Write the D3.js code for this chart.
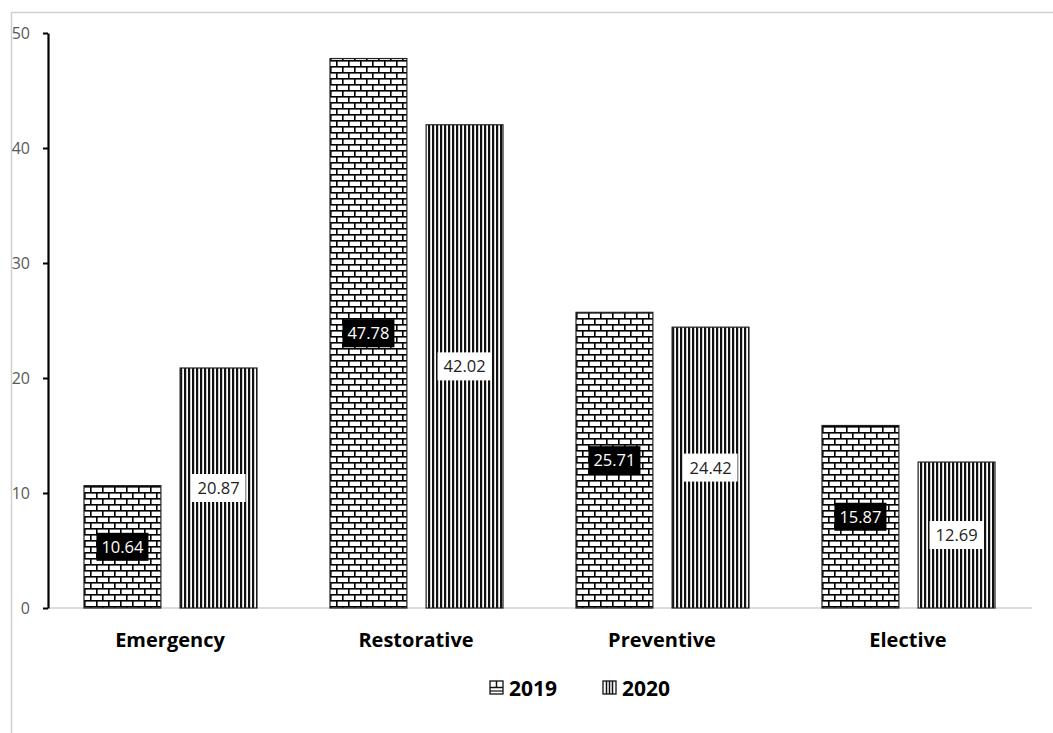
<!DOCTYPE html>
<html><head><meta charset="utf-8">
<script src="https://cdn.jsdelivr.net/npm/d3@7"></script>
<style>body{margin:0;background:#fff}svg{display:block}</style>
</head><body><svg id="c" width="1053" height="733"></svg>
<script>
const categories = ["Emergency", "Restorative", "Preventive", "Elective"];
const seriesNames = ["2019", "2020"];
const values2019 = [10.64, 47.78, 25.71, 15.87];
const values2020 = [20.87, 42.02, 24.42, 12.69];
const yTicks = [0, 10, 20, 30, 40, 50];

const svg = d3.select("#c");
const font = "'Open Sans', sans-serif";
const defs = svg.append("defs");
// brick pattern
const pb = defs.append("pattern").attr("id", "brick").attr("patternUnits", "userSpaceOnUse")
  .attr("width", 12).attr("height", 12);
pb.append("rect").attr("width", 12).attr("height", 12).attr("fill", "#fff");
pb.append("rect").attr("x", 0).attr("y", 0).attr("width", 12).attr("height", 1.6).attr("fill", "#000");
pb.append("rect").attr("x", 0).attr("y", 6).attr("width", 12).attr("height", 1.6).attr("fill", "#000");
pb.append("rect").attr("x", 0).attr("y", 0).attr("width", 1.6).attr("height", 6).attr("fill", "#000");
pb.append("rect").attr("x", 6).attr("y", 6).attr("width", 1.6).attr("height", 6).attr("fill", "#000");
// vertical stripes
const pv = defs.append("pattern").attr("id", "vstripe").attr("patternUnits", "userSpaceOnUse")
  .attr("width", 4).attr("height", 4);
pv.append("rect").attr("width", 4).attr("height", 4).attr("fill", "#fff");
pv.append("rect").attr("x", 0).attr("width", 2.2).attr("height", 4).attr("fill", "#111");

// outer frame
svg.append("path").attr("d", "M11.5,733 L11.5,12.5 L1053,12.5").attr("fill", "none")
  .attr("stroke", "#d0d0d0").attr("stroke-width", 1.5);

const x0 = d3.scaleBand().domain(categories).range([48, 1032]).paddingInner(0).paddingOuter(0);
const x1 = d3.scaleBand().domain(seriesNames).range([36, 36 + 173]).paddingInner(0.2);
const y = d3.scaleLinear().domain([0, 50]).range([608, 33]);

// baseline
svg.append("line").attr("x1", 48).attr("x2", 1032).attr("y1", y(0)).attr("y2", y(0))
  .attr("stroke", "#d0d0d0").attr("stroke-width", 1.5);

// y axis
const yAxis = d3.axisLeft(y).tickValues(yTicks).tickSize(5).tickSizeOuter(0).tickPadding(13);
const ga = svg.append("g").attr("transform", "translate(48,0)").call(yAxis);
ga.select(".domain").attr("stroke", "#000").attr("stroke-width", 2.2);
ga.selectAll(".tick line").attr("stroke", "#000").attr("stroke-width", 2);
ga.selectAll(".tick text").attr("font-family", font).attr("font-size", 16).attr("fill", "#595959");

const series = [
  {name: "2019", vals: values2019, fill: "url(#brick)"},
  {name: "2020", vals: values2020, fill: "url(#vstripe)"}
];

series.forEach(s => {
  const g = svg.append("g");
  g.selectAll("rect").data(categories).join("rect")
    .attr("x", (d) => x0(d) + x1(s.name))
    .attr("y", (d, i) => y(s.vals[i]))
    .attr("width", x1.bandwidth())
    .attr("height", (d, i) => y(0) - y(s.vals[i]))
    .attr("fill", s.fill)
    .attr("stroke", "#222").attr("stroke-width", 1.2);
});

// value labels
series.forEach((s, si) => {
  const g = svg.append("g");
  categories.forEach((c, i) => {
    const cx = x0(c) + x1(s.name) + x1.bandwidth() / 2;
    const cy = y(s.vals[i] / 2);
    const w = si === 0 ? 52 : 54, h = 28;
    g.append("rect").attr("x", cx - w / 2).attr("y", cy - h / 2).attr("width", w).attr("height", h)
      .attr("fill", si === 0 ? "#000" : "#fff");
    g.append("text").attr("x", cx).attr("y", cy).attr("dy", "0.36em").attr("text-anchor", "middle")
      .attr("font-family", font).attr("font-size", 16.5)
      .attr("fill", si === 0 ? "#fff" : "#222").text(s.vals[i].toFixed(2));
  });
});

// category labels
svg.append("g").selectAll("text").data(categories).join("text")
  .attr("x", d => x0(d) + x0.bandwidth() / 2 - 1).attr("y", 640).attr("dy", "0.35em")
  .attr("text-anchor", "middle").attr("font-family", font).attr("font-weight", "bold")
  .attr("font-size", 20).attr("fill", "#000").text(d => d);

// legend
const legX = [490, 603];
series.forEach((s, si) => {
  const g = svg.append("g").attr("transform", `translate(${legX[si]},681)`);
  g.append("rect").attr("width", 13).attr("height", 13).attr("fill", "#fff").attr("stroke", "#111").attr("stroke-width", 1.3);
  if (si === 0) {
    g.append("line").attr("x1", 0).attr("x2", 13).attr("y1", 6.5).attr("y2", 6.5).attr("stroke", "#111").attr("stroke-width", 1.5);
    g.append("line").attr("x1", 6.5).attr("x2", 6.5).attr("y1", 0).attr("y2", 6.5).attr("stroke", "#111").attr("stroke-width", 1.5);
    g.append("line").attr("x1", 0).attr("x2", 13).attr("y1", 10).attr("y2", 10).attr("stroke", "#111").attr("stroke-width", 1.2);
  } else {
    [3, 6, 9].forEach(xx => g.append("line").attr("x1", xx + 0.5).attr("x2", xx + 0.5).attr("y1", 0).attr("y2", 13).attr("stroke", "#111").attr("stroke-width", 1.5));
  }
  g.append("text").attr("x", 19).attr("y", 7).attr("dy", "0.36em").attr("font-family", font)
    .attr("font-weight", "bold").attr("font-size", 21).attr("fill", "#000").text(s.name);
});
</script></body></html>
